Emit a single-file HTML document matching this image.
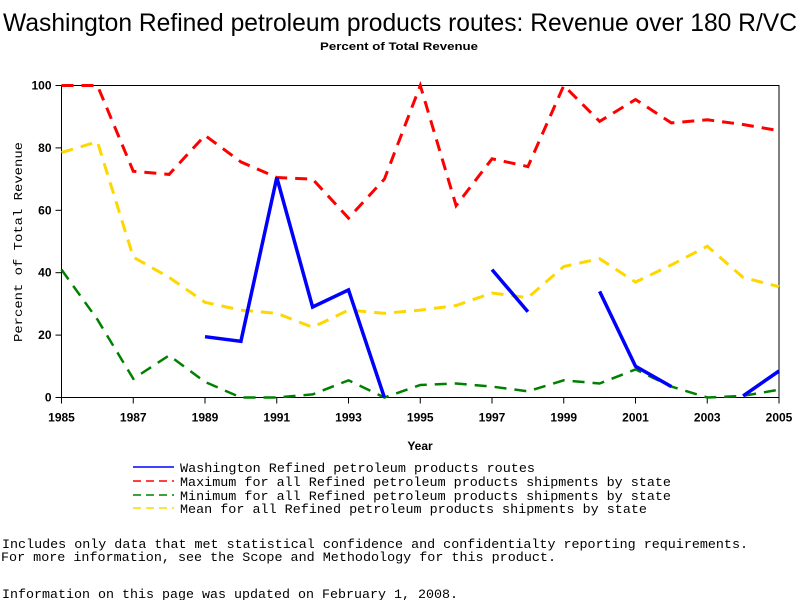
<!DOCTYPE html>
<html><head><meta charset="utf-8"><style>
html,body{margin:0;padding:0;background:#fff;}
svg{display:block;}
text{font-family:"Liberation Sans",sans-serif;}
.mono{font-family:"Liberation Mono",monospace;}
</style></head><body>
<svg id="chart" width="800" height="600" xmlns="http://www.w3.org/2000/svg">
<text x="3" y="31" font-size="25" textLength="794" lengthAdjust="spacingAndGlyphs">Washington Refined petroleum products routes: Revenue over 180 R/VC</text>
<text x="320" y="50" font-size="11" font-weight="bold" textLength="158" lengthAdjust="spacingAndGlyphs">Percent of Total Revenue</text>
<g id="plot"></g>
<text class="mono" transform="translate(22,242) rotate(-90)" text-anchor="middle" font-size="12" textLength="200" lengthAdjust="spacingAndGlyphs">Percent of Total Revenue</text>
<text x="420" y="450" text-anchor="middle" font-size="12" font-weight="bold">Year</text>
<g>
<line x1="133" y1="467" x2="174" y2="467" stroke="#0000ff" stroke-width="1.5"/>
<line x1="133" y1="481" x2="174" y2="481" stroke="#ff0000" stroke-width="1.5" stroke-dasharray="8,5"/>
<line x1="133" y1="495" x2="174" y2="495" stroke="#008000" stroke-width="1.5" stroke-dasharray="8,5"/>
<line x1="133" y1="508" x2="174" y2="508" stroke="#ffd700" stroke-width="1.5" stroke-dasharray="8,5"/>
<text class="mono" x="180" y="472" font-size="13" textLength="355" lengthAdjust="spacingAndGlyphs">Washington Refined petroleum products routes</text>
<text class="mono" x="180" y="486" font-size="13" textLength="491" lengthAdjust="spacingAndGlyphs">Maximum for all Refined petroleum products shipments by state</text>
<text class="mono" x="180" y="500" font-size="13" textLength="491" lengthAdjust="spacingAndGlyphs">Minimum for all Refined petroleum products shipments by state</text>
<text class="mono" x="180" y="513" font-size="13" textLength="467" lengthAdjust="spacingAndGlyphs">Mean for all Refined petroleum products shipments by state</text>
</g>
<text class="mono" x="2" y="548" font-size="13" textLength="746" lengthAdjust="spacingAndGlyphs">Includes only data that met statistical confidence and confidentialty reporting requirements.</text>
<text class="mono" x="1" y="561" font-size="13" textLength="555" lengthAdjust="spacingAndGlyphs">For more information, see the Scope and Methodology for this product.</text>
<text class="mono" x="2" y="598" font-size="13" textLength="456" lengthAdjust="spacingAndGlyphs">Information on this page was updated on February 1, 2008.</text>
</svg>
<script>
const years=[1985,1986,1987,1988,1989,1990,1991,1992,1993,1994,1995,1996,1997,1998,1999,2000,2001,2002,2003,2004,2005];
const maxVals=[100,100,72.5,71.5,84,75.5,70.5,70,57.5,70,100,61.5,76.5,74,100,88.5,95.5,88,89,87.5,85.5];
const meanVals=[78.5,82,45,38.5,30.5,28,27,22.5,28,27,28,29.5,33.5,32,42,44.5,37,42.5,48.5,38.5,35.5];
const minVals=[41,25,6,13.5,5,0,0,1,5.5,0,4,4.5,3.5,2,5.5,4.5,9,3.5,0,0.5,2.5];
const waVals=[null,null,null,null,19.5,18,70.5,29,34.5,0,null,null,41,27.5,null,34,10,3.5,null,0.5,8.5];
const yTicks=[0,20,40,60,80,100];
const xTicks=[1985,1987,1989,1991,1993,1995,1997,1999,2001,2003,2005];

const NS="http://www.w3.org/2000/svg";
const L=61.5,R=779,T=85.5,B=397.5;
const xs=y=>L+(y-1985)/(2005-1985)*(R-L);
const ys=v=>B-v/100*(B-T);
const g=document.getElementById('plot');
function mk(tag,attrs){const e=document.createElementNS(NS,tag);for(const k in attrs)e.setAttribute(k,attrs[k]);return e;}

const frame=mk('rect',{x:L,y:T,width:R-L,height:B-T,fill:'none',stroke:'#000','stroke-width':1});


g.appendChild(frame);

yTicks.forEach(v=>{
  const t=mk('line',{x1:L-6,x2:L,y1:ys(v),y2:ys(v),stroke:'#000'});
  
  
  g.appendChild(t);
  const tx=mk('text',{x:L-10,y:ys(v)+4,'text-anchor':'end','font-size':12,'font-weight':'bold'});
  tx.textContent=v;
  
  
  g.appendChild(tx);
});
xTicks.forEach(v=>{
  const t=mk('line',{x1:xs(v),x2:xs(v),y1:B,y2:B+6,stroke:'#000'});
  
  
  g.appendChild(t);
  const tx=mk('text',{x:xs(v),y:B+24,'text-anchor':'middle','font-size':12,'font-weight':'bold'});
  tx.textContent=v;
  
  
  g.appendChild(tx);
});

function series(vals,color,dash,width,name){
  let segs=[],cur=[];
  vals.forEach((v,i)=>{
    if(v===null){if(cur.length)segs.push(cur);cur=[];}
    else cur.push(xs(years[i]).toFixed(1)+','+ys(v).toFixed(1));
  });
  if(cur.length)segs.push(cur);
  segs.forEach(s=>{
    const p=mk('polyline',{points:s.join(' '),fill:'none',stroke:color,'stroke-width':width,'stroke-dasharray':dash,'stroke-linejoin':'miter'});
    
    
    g.appendChild(p);
  });
}
series(maxVals,'#ff0000','12,8',3,'max-line');
series(meanVals,'#ffd700','12,8',3,'mean-line');
series(minVals,'#008000','12,8',2.5,'min-line');
series(waVals,'#0000ff','none',3.5,'washington-line');
</script>
</body></html>
